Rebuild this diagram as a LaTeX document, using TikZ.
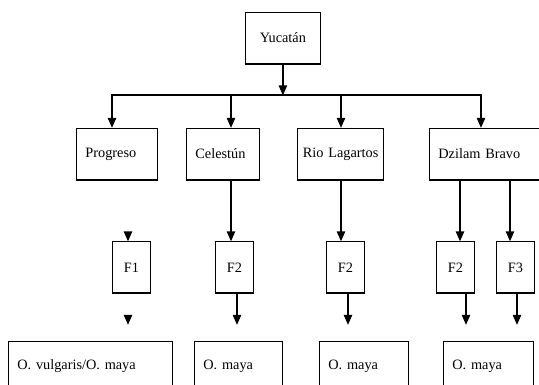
\documentclass[tikz,border=0pt]{standalone}
\usepackage{fontspec}
\setmainfont{Liberation Serif}
\usetikzlibrary{arrows.meta}

\tikzset{
    box/.style={draw, line width=0.8pt, anchor=north west, minimum height=51pt,
        inner xsep=9pt, inner ysep=0pt, text width=#1, align=left},
    fbox/.style={draw, line width=0.8pt, anchor=north west, minimum height=51pt,
        minimum width=38pt, inner sep=0pt},
    arr/.style={line width=2pt, -{Triangle[length=10pt,width=8pt]}},
    arrs/.style={line width=2pt, {Triangle[length=10pt,width=8pt]}-{Triangle[length=10pt,width=8pt]}},
}

\begin{document}
\begin{tikzpicture}[x=1pt, y=-1pt, font=\fontsize{14.3}{17}\selectfont]
        \clip (0,0) rectangle (539,385);

        % boxes
        \node [box=57pt, align=center] (yuc) at (245,12) {Yucatán};

        \node [box=63pt] (pro) at (76,128) {Progreso};
        \node [box=55pt] (cel) at (186,128) {Celestún};
        \node [box=75pt, inner xsep=5.5pt] (rio) at (297,128) {\mbox{Rio Lagartos}};
        \node [box=98pt] (dzi) at (429,128) {Dzilam Bravo};

        \node [fbox] (f1) at (112,241.5) {F1};
        \node [fbox] (f2a) at (215,241.5) {F2};
        \node [fbox] (f2b) at (326,241.5) {F2};
        \node [fbox] (f2c) at (436,241.5) {F2};
        \node [fbox] (f3) at (496,241.5) {F3};

        \node [box=146pt, minimum height=50pt] (ov) at (8,340.5) {O. vulgaris/O. maya};
        \node [box=70pt, minimum height=50pt] (om1) at (194,340.5) {O. maya};
        \node [box=71pt, minimum height=50pt] (om2) at (319,340.5) {O. maya};
        \node [box=72pt, minimum height=50pt] (om3) at (443,340.5) {O. maya};

        % thick lower edges
        \draw [line width=2.4pt]
            (yuc.south west) -- (yuc.south east)
            (pro.south west) -- (pro.south east)
            (cel.south west) -- (cel.south east)
            (rio.south west) -- (rio.south east)
            (dzi.south west) -- (dzi.south east)
            (f1.south west) -- (f1.south east)
            (f2a.south west) -- (f2a.south east)
            (f2b.south west) -- (f2b.south east)
            (f2c.south west) -- (f2c.south east)
            (f3.south west) -- (f3.south east)
            ;

        % columns
        \coordinate (bus) at (0,95.5);
        \coordinate (x1) at (112,0);
        \coordinate (x2) at (231,0);
        \coordinate (x3) at (341,0);
        \coordinate (x4) at (481,0);
        \coordinate (x5) at (460,0);
        \coordinate (x6) at (510,0);
        \coordinate (o1) at (128,0);
        \coordinate (o2) at (237,0);
        \coordinate (o3) at (348,0);
        \coordinate (o4) at (466,0);
        \coordinate (o5) at (517,0);

        \draw [arr] (yuc.south) -- (yuc.south |- bus);
        \draw [arrs] (x1 |- pro.north) -- (x1 |- bus) -- (x4 |- bus) -- (x4 |- dzi.north);
        \draw [arr] (x2 |- bus) -- (x2 |- cel.north);
        \draw [arr] (x3 |- bus) -- (x3 |- rio.north);

        \draw [arr] (x2 |- cel.south) -- (x2 |- f2a.north);
        \draw [arr] (x3 |- rio.south) -- (x3 |- f2b.north);
        \draw [arr] (x5 |- dzi.south) -- (x5 |- f2c.north);
        \draw [arr] (x6 |- dzi.south) -- (x6 |- f3.north);
        \draw [arr, shorten <=52pt] (o1 |- pro.south) -- (o1 |- f1.north);

        \draw [arr, shorten <=23pt, shorten >=15.5pt] (o1 |- f1.south) -- (o1 |- ov.north);
        \draw [arr, shorten >=15.5pt] (o2 |- f2a.south) -- (o2 |- om1.north);
        \draw [arr, shorten >=15.5pt] (o3 |- f2b.south) -- (o3 |- om2.north);
        \draw [arr, shorten >=15.5pt] (o4 |- f2c.south) -- (o4 |- om3.north);
        \draw [arr, shorten >=15.5pt] (o5 |- f3.south) -- (o5 |- om3.north);

    \end{tikzpicture}
\end{document}
